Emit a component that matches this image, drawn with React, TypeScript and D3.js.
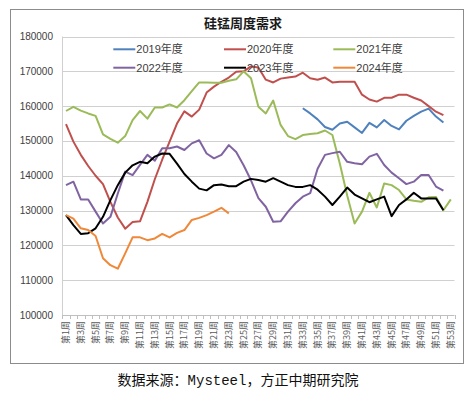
import * as d3 from 'd3'
import { useEffect, useRef } from 'react'

const W = 474
const H = 395

// categories: week 1..53
const weeks = d3.range(1, 54)
const yTicks = [100000, 110000, 120000, 130000, 140000, 150000, 160000, 170000, 180000]

// each series starts at week 1 unless noted
const v2019 = [
  159400, 157900, 156200, 154000, 153200, 155000, 155500, 153900, 152300, 155200,
  153900, 156000, 154300, 153300, 155800, 157200, 158400, 159300, 157000, 155300,
] // from week 33
const v2020 = [
  154800, 149800, 146000, 142800, 140000, 137600, 132500, 128000, 124800, 126700,
  126900, 132500, 139000, 144600, 149800, 155000, 158500, 157000, 159000, 163900,
  165600, 167000, 168200, 169900, 170000, 171400, 171100, 167600, 166800, 167900,
  168200, 168500, 169600, 168000, 167600, 168200, 166800, 167000, 167000, 167000,
  163300, 161900, 161300, 162400, 162400, 163300, 163300, 162400, 161600, 160000,
  158400, 157400,
]
const v2021 = [
  158600, 159800, 158700, 157900, 157200, 151900, 150600, 149500, 151400, 156000,
  158600, 156400, 159600, 159600, 160500, 159600, 161700, 164300, 166800, 166800,
  166700, 166700, 167300, 167700, 170000, 168000, 159800, 157900, 161600, 154600,
  151400, 150500, 151700, 152000, 152200, 153000, 151700, 143500, 134300, 126300,
  129700, 135100, 130900, 137800, 137300, 135900, 133200, 132800, 132500, 133800,
  133900, 130100, 133200,
]
const v2022 = [
  137300, 138300, 133200, 133200, 129700, 126300, 128200, 134900, 141200, 140200,
  143100, 146000, 144300, 147900, 147900, 148400, 147400, 149300, 150200, 146400,
  145000, 146000, 148800, 146800, 143000, 138700, 133600, 131100, 126800, 126900,
  129700, 132100, 134000, 135000, 142000, 146000, 146500, 146900, 144000, 143600,
  143300, 145500, 146300, 143100, 140900, 139300, 137600, 138300, 140200, 140200,
  136900, 135700,
]
const v2023 = [
  128700, 125800, 123300, 123500, 124900, 128200, 133000, 137300, 140900, 143000,
  144000, 143600, 145500, 146400, 146300, 143500, 140500, 138300, 136300, 135800,
  137300, 137500, 137000, 137000, 138300, 139100, 138800, 138300, 139300, 138300,
  137300, 136800, 136800, 137300, 136000, 134000, 131600, 134000, 136600, 134600,
  133500, 132400, 133200, 134000, 128400, 131600, 133200, 135100, 133500, 133500,
  133500, 130100,
]
const v2024 = [
  128700, 127700, 124900, 124400, 122700, 116300, 114300, 113300, 117700, 122300,
  122300, 121500, 122000, 123300, 122300, 123600, 124400, 127300, 127900, 128700,
  129700, 130800, 129200,
]

const seriesNames = ['2019年度', '2020年度', '2021年度', '2022年度', '2023年度', '2024年度']
const seriesStart = [33, 1, 1, 1, 1, 1]
const seriesValues = [v2019, v2020, v2021, v2022, v2023, v2024]
const seriesColors = ['#4F81BD', '#C0504D', '#9BBB59', '#8064A2', '#000000', '#F0883A']

export default function App() {
  const svgRef = useRef<SVGSVGElement>(null)

  useEffect(() => {
    if (!svgRef.current) return
    const svg = d3.select(svgRef.current)
    svg.selectAll('*').remove()

    const left = 62.3
    const right = 454.5
    const top = 36.5
    const bottom = 315

    const x = d3.scaleBand<number>().domain(weeks).range([left, right])
    const y = d3.scaleLinear().domain([100000, 180000]).range([bottom, top])
    const cx = (w: number) => (x(w) as number) + x.bandwidth() / 2

    svg.append('rect').attr('width', W).attr('height', H).attr('fill', '#fff')

    // outer frame
    svg.append('rect')
      .attr('x', 10.5).attr('y', 9.5).attr('width', 453).attr('height', 354)
      .attr('fill', 'none').attr('stroke', '#8c8c8c').attr('stroke-width', 1)

    // title
    svg.append('text')
      .attr('x', 243).attr('y', 28)
      .attr('text-anchor', 'middle')
      .attr('font-family', '"Noto Sans CJK SC", sans-serif')
      .attr('font-weight', 'bold')
      .attr('font-size', 13)
      .attr('fill', '#1a1a1a')
      .text('硅锰周度需求')

    // grid + y labels
    const g = svg.append('g')
    yTicks.forEach(t => {
      g.append('line')
        .attr('x1', left).attr('x2', right)
        .attr('y1', Math.round(y(t)) + 0.5).attr('y2', Math.round(y(t)) + 0.5)
        .attr('stroke', t === 100000 ? '#bfbfbf' : '#d0d0d0')
      g.append('text')
        .attr('x', 53).attr('y', y(t) + 3.5)
        .attr('text-anchor', 'end')
        .attr('font-family', '"Liberation Sans", Arial, sans-serif')
        .attr('font-size', 10)
        .attr('fill', '#404040')
        .text(String(t))
    })
    g.append('line')
      .attr('x1', Math.round(left) + 0.5).attr('x2', Math.round(left) + 0.5)
      .attr('y1', top).attr('y2', bottom)
      .attr('stroke', '#d0d0d0')

    // x ticks
    weeks.concat([54]).forEach((_, i) => {
      const xx = Math.round(left + i * x.step()) + 0.5
      g.append('line')
        .attr('x1', xx).attr('x2', xx)
        .attr('y1', bottom).attr('y2', bottom + 4)
        .attr('stroke', '#bfbfbf')
    })
    weeks.filter(w => w % 2 === 1).forEach(w => {
      g.append('text')
        .attr('transform', `translate(${cx(w) + 3},${bottom + 6}) rotate(-90)`)
        .attr('text-anchor', 'end')
        .attr('font-family', '"Noto Sans CJK SC", sans-serif')
        .attr('font-size', 9)
        .attr('fill', '#595959')
        .text(`第${w}周`)
    })

    // series
    const line = d3.line<[number, number | null]>()
      .defined(d => d[1] != null)
      .x(d => cx(d[0]))
      .y(d => y(d[1] as number))

    seriesValues.forEach((vals, i) => {
      const pts: [number, number | null][] = vals.map((v, j) => [seriesStart[i] + j, v])
      svg.append('path')
        .attr('d', line(pts) as string)
        .attr('fill', 'none')
        .attr('stroke', seriesColors[i])
        .attr('stroke-width', 2)
        .attr('stroke-linejoin', 'round')
    })

    // legend
    const legX = [113.3, 224, 333.3]
    const legY = [49.3, 67.7]
    seriesNames.forEach((name, i) => {
      const lx = legX[i % 3]
      const ly = legY[Math.floor(i / 3)]
      svg.append('line')
        .attr('x1', lx).attr('x2', lx + 22)
        .attr('y1', ly).attr('y2', ly)
        .attr('stroke', seriesColors[i]).attr('stroke-width', 2)
      svg.append('text')
        .attr('x', lx + 23).attr('y', ly + 4)
        .attr('font-family', '"Liberation Sans", "Noto Sans CJK SC", sans-serif')
        .attr('font-size', 11)
        .attr('fill', '#404040')
        .text(name)
    })

    // source caption
    svg.append('text')
      .attr('x', 238).attr('y', 385)
      .attr('text-anchor', 'middle')
      .attr('font-family', '"Liberation Mono", "Noto Sans CJK SC", monospace')
      .attr('font-size', 14)
      .attr('fill', '#111')
      .text('数据来源：Mysteel，方正中期研究院')
  }, [])

  return (
    <div style={{ position: 'absolute', left: 0, top: 0 }}>
      <svg ref={svgRef} width={W} height={H} style={{ display: 'block' }} />
    </div>
  )
}
